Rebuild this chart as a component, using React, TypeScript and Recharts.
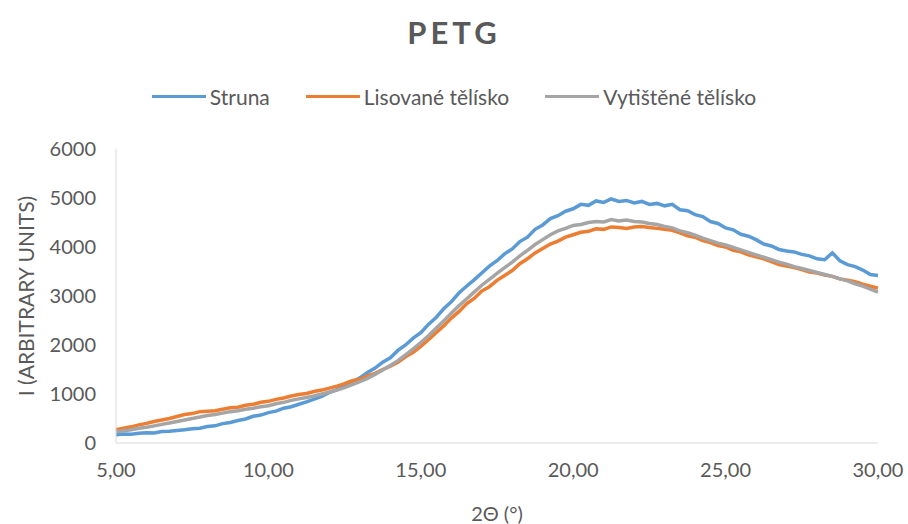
import { LineChart, Line, XAxis, YAxis } from 'recharts';

const angles = [
  5, 5.25, 5.5, 5.75, 6, 6.25, 6.5, 6.75, 7, 7.25, 7.5, 7.75, 8, 8.25, 8.5, 8.75, 9, 9.25, 9.5, 9.75,
  10, 10.25, 10.5, 10.75, 11, 11.25, 11.5, 11.75, 12, 12.25, 12.5, 12.75, 13, 13.25, 13.5, 13.75, 14, 14.25, 14.5, 14.75,
  15, 15.25, 15.5, 15.75, 16, 16.25, 16.5, 16.75, 17, 17.25, 17.5, 17.75, 18, 18.25, 18.5, 18.75, 19, 19.25, 19.5, 19.75,
  20, 20.25, 20.5, 20.75, 21, 21.25, 21.5, 21.75, 22, 22.25, 22.5, 22.75, 23, 23.25, 23.5, 23.75, 24, 24.25, 24.5, 24.75,
  25, 25.25, 25.5, 25.75, 26, 26.25, 26.5, 26.75, 27, 27.25, 27.5, 27.75, 28, 28.25, 28.5, 28.75, 29, 29.25, 29.5, 29.75,
  30,
];

const struna = [
  170, 185, 180, 200, 210, 205, 235, 240, 255, 270, 290, 300, 335, 350, 395, 420, 460, 490, 545, 570,
  620, 650, 710, 740, 790, 840, 895, 950, 1030, 1090, 1180, 1240, 1330, 1440, 1530, 1650, 1740, 1890, 2000, 2140,
  2250, 2420, 2560, 2740, 2880, 3060, 3200, 3330, 3470, 3610, 3720, 3860, 3960, 4110, 4200, 4360, 4450, 4580, 4640, 4730,
  4780, 4870, 4850, 4940, 4910, 4980, 4930, 4950, 4900, 4930, 4870, 4890, 4840, 4870, 4760, 4740, 4660, 4620, 4520, 4480,
  4390, 4350, 4260, 4220, 4150, 4060, 4020, 3950, 3920, 3900, 3850, 3820, 3760, 3740, 3880, 3720, 3640, 3600, 3530, 3440,
  3420,
];

const lisovane = [
  270, 300, 330, 370, 400, 440, 470, 500, 540, 580, 600, 640, 650, 660, 690, 720, 730, 770, 790, 830,
  850, 890, 920, 960, 990, 1010, 1050, 1080, 1120, 1160, 1210, 1270, 1300, 1370, 1420, 1500, 1570, 1650, 1760, 1850,
  1970, 2110, 2250, 2390, 2550, 2680, 2840, 2950, 3100, 3190, 3320, 3420, 3520, 3660, 3760, 3880, 3970, 4060, 4120, 4200,
  4250, 4300, 4320, 4370, 4360, 4410, 4400, 4380, 4410, 4420, 4400, 4380, 4360, 4340, 4290, 4230, 4200, 4130, 4090, 4030,
  4000, 3930, 3900, 3840, 3800, 3760, 3700, 3640, 3610, 3580, 3540, 3490, 3470, 3430, 3400, 3350, 3320, 3290, 3240, 3200,
  3160,
];

const vytistene = [
  230, 250, 270, 300, 320, 350, 380, 410, 440, 470, 500, 530, 560, 580, 610, 640, 660, 690, 710, 740,
  760, 800, 830, 870, 900, 930, 960, 1000, 1040, 1080, 1130, 1190, 1250, 1320, 1400, 1490, 1580, 1680, 1800, 1920,
  2050, 2190, 2340, 2490, 2650, 2800, 2940, 3080, 3220, 3340, 3460, 3580, 3690, 3820, 3930, 4050, 4150, 4250, 4330, 4380,
  4440, 4460, 4500, 4520, 4510, 4560, 4530, 4550, 4520, 4510, 4480, 4460, 4420, 4390, 4330, 4290, 4240, 4180, 4130, 4080,
  4040, 3990, 3940, 3890, 3840, 3790, 3740, 3690, 3650, 3600, 3560, 3520, 3480, 3440, 3400, 3350, 3310, 3250, 3200, 3140,
  3080,
];

const xTicks = [5, 10, 15, 20, 25, 30];
const yTicks = [0, 1000, 2000, 3000, 4000, 5000, 6000];

const series = [
  { key: 'struna', name: 'Struna', color: '#5B9BD5' },
  { key: 'lisovane', name: 'Lisované tělísko', color: '#ED7D31' },
  { key: 'vytistene', name: 'Vytištěné tělísko', color: '#A5A5A5' },
];

const data = angles.map((a, i) => ({
  angle: a,
  struna: struna[i],
  lisovane: lisovane[i],
  vytistene: vytistene[i],
}));

const font = 'Lato, "Open Sans", sans-serif';
const textColor = '#595959';

export default function App() {
  return (
    <div style={{ position: 'absolute', left: 0, top: 0, width: 908, height: 524, background: '#fff', fontFamily: font }}>
      <div
        style={{
          position: 'absolute',
          top: 13,
          width: 908,
          textAlign: 'center',
          fontSize: 31,
          fontWeight: 700,
          letterSpacing: 4,
          color: textColor,
        }}
      >
        PETG
      </div>
      <div
        style={{
          position: 'absolute',
          top: 84,
          width: 908,
          display: 'flex',
          justifyContent: 'center',
          gap: 36,
          fontSize: 21,
          color: textColor,
        }}
      >
        {series.map((s) => (
          <div key={s.key} style={{ display: 'flex', alignItems: 'center' }}>
            <span style={{ display: 'inline-block', width: 54, height: 3, background: s.color, marginRight: 4 }} />
            <span>{s.name}</span>
          </div>
        ))}
      </div>
      <LineChart width={908} height={524} data={data} margin={{ top: 149, right: 30, bottom: 0, left: 0 }}>
        <XAxis
          dataKey="angle"
          type="number"
          domain={[5, 30]}
          ticks={xTicks}
          tickFormatter={(v: number) => v.toFixed(2).replace('.', ',')}
          tick={{ fill: textColor, fontSize: 20, fontFamily: font }}
          tickLine={false}
          tickMargin={14}
          axisLine={{ stroke: '#D9D9D9' }}
          height={81}
          label={{ value: '2Θ (°)', position: 'insideBottom', offset: 3, fill: textColor, fontSize: 20, fontFamily: font }}
        />
        <YAxis
          domain={[0, 6000]}
          ticks={yTicks}
          tick={{ fill: textColor, fontSize: 20, fontFamily: font }}
          tickLine={false}
          tickMargin={14}
          axisLine={{ stroke: '#D9D9D9' }}
          width={116}
          label={{
            value: 'I (ARBITRARY UNITS)',
            angle: -90,
            position: 'insideLeft',
            offset: 27,
            fill: textColor,
            fontSize: 21,
            fontFamily: font,
            style: { textAnchor: 'middle' },
          }}
        />
        {series.map((s) => (
          <Line
            key={s.key}
            dataKey={s.key}
            name={s.name}
            stroke={s.color}
            strokeWidth={3.5}
            dot={false}
            type="linear"
            isAnimationActive={false}
          />
        ))}
      </LineChart>
    </div>
  );
}
